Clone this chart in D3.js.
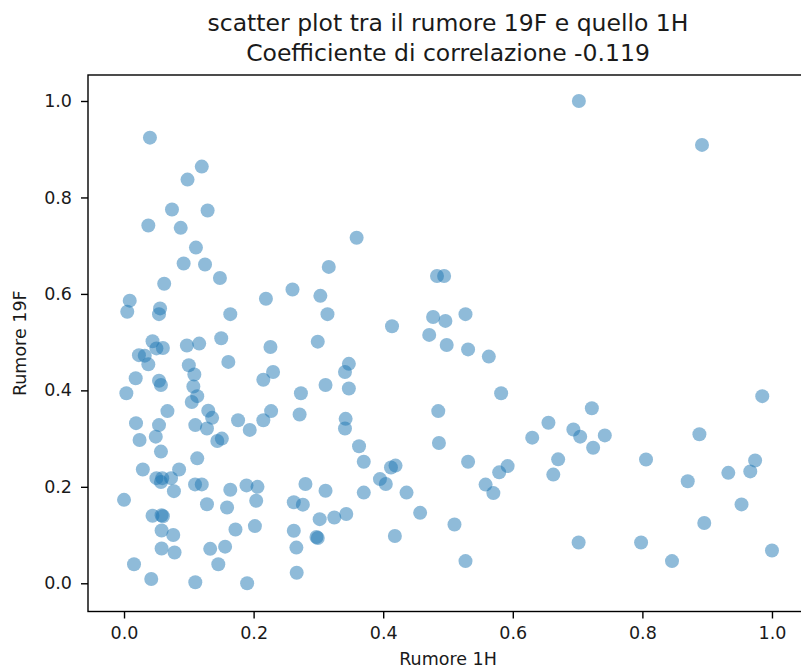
<!DOCTYPE html>
<html>
<head>
<meta charset="utf-8">
<script src="https://cdn.jsdelivr.net/npm/d3@7/dist/d3.min.js"></script>
<style>
  body { margin: 0; background: #fff; }
  svg text { font-family: "DejaVu Sans", sans-serif; }
</style>
</head>
<body>
<svg id="chart" width="801" height="670"></svg>
<script>
// Noise of the 1H channel (x) against the 19F channel (y), one entry per sample
const rumore1H = [
  0.040, 0.120, 0.098, 0.074, 0.129, 0.0375, 0.0875, 0.111, 0.092, 0.125,
  0.148, 0.062, 0.0088, 0.005, 0.0556, 0.054, 0.164, 0.219, 0.260, 0.303,
  0.316, 0.314, 0.299, 0.044, 0.023, 0.032, 0.0375, 0.050, 0.060, 0.097,
  0.116, 0.150, 0.161, 0.100, 0.1085, 0.018, 0.054, 0.057, 0.107, 0.113,
  0.1045, 0.0036, 0.215, 0.230, 0.226, 0.273, 0.311, 0.067, 0.130, 0.136,
  0.0185, 0.054, 0.110, 0.128, 0.176, 0.194, 0.215, 0.227, 0.271, 0.024,
  0.049, 0.144, 0.151, 0.057, 0.113, 0.029, 0.085, 0.050, 0.059, 0.0725,
  0.057, 0.077, 0.1096, 0.120, 0.164, 0.189, 0.206, 0.000, 0.128, 0.159,
  0.204, 0.262, 0.276, 0.280, 0.311, 0.044, 0.058, 0.060, 0.058, 0.076,
  0.172, 0.202, 0.262, 0.297, 0.299, 0.058, 0.078, 0.133, 0.156, 0.266,
  0.0154, 0.1455, 0.2665, 0.042, 0.110, 0.190, 0.483, 0.494, 0.4136, 0.477,
  0.496, 0.527, 0.471, 0.498, 0.531, 0.563, 0.347, 0.341, 0.347, 0.582,
  0.485, 0.342, 0.341, 0.655, 0.630, 0.486, 0.3627, 0.370, 0.412, 0.419,
  0.531, 0.592, 0.579, 0.395, 0.404, 0.558, 0.570, 0.370, 0.436, 0.302,
  0.3245, 0.343, 0.457, 0.418, 0.510, 0.527, 0.6935, 0.704, 0.742, 0.724,
  0.670, 0.6625, 0.8056, 0.888, 0.870, 0.9326, 0.9665, 0.974, 0.953, 0.8955,
  0.7016, 0.798, 0.8457, 1.000, 0.985, 0.722, 0.359, 0.702, 0.892
];
const rumore19F = [
  0.924, 0.864, 0.837, 0.775, 0.773, 0.742, 0.737, 0.696, 0.663, 0.661,
  0.633, 0.621, 0.586, 0.563, 0.570, 0.558, 0.558, 0.590, 0.609, 0.596,
  0.656, 0.558, 0.501, 0.502, 0.473, 0.472, 0.454, 0.487, 0.488, 0.493,
  0.497, 0.508, 0.459, 0.452, 0.433, 0.425, 0.420, 0.411, 0.408, 0.388,
  0.376, 0.394, 0.422, 0.438, 0.490, 0.394, 0.411, 0.357, 0.358, 0.343,
  0.332, 0.328, 0.328, 0.321, 0.338, 0.318, 0.338, 0.357, 0.350, 0.297,
  0.304, 0.295, 0.300, 0.273, 0.259, 0.236, 0.236, 0.218, 0.218, 0.218,
  0.210, 0.191, 0.205, 0.205, 0.194, 0.203, 0.200, 0.173, 0.164, 0.157,
  0.171, 0.168, 0.163, 0.206, 0.192, 0.140, 0.141, 0.139, 0.1095, 0.100,
  0.1115, 0.1186, 0.109, 0.096, 0.094, 0.072, 0.0637, 0.0714, 0.076, 0.074,
  0.0395, 0.0395, 0.022, 0.009, 0.002, 0.000, 0.637, 0.637, 0.533, 0.552,
  0.544, 0.558, 0.515, 0.494, 0.485, 0.470, 0.455, 0.438, 0.404, 0.394,
  0.357, 0.341, 0.321, 0.333, 0.302, 0.291, 0.284, 0.252, 0.240, 0.244,
  0.252, 0.243, 0.230, 0.216, 0.206, 0.2046, 0.187, 0.188, 0.188, 0.133,
  0.1365, 0.1436, 0.146, 0.098, 0.122, 0.046, 0.319, 0.304, 0.3066, 0.281,
  0.257, 0.2254, 0.2566, 0.309, 0.2115, 0.229, 0.232, 0.2545, 0.1636, 0.125,
  0.0845, 0.0845, 0.046, 0.068, 0.388, 0.363, 0.7165, 1.000, 0.909
];
const xTicks = [0.0, 0.2, 0.4, 0.6, 0.8, 1.0];
const yTicks = [0.0, 0.2, 0.4, 0.6, 0.8, 1.0];
const titleLines = [
  "scatter plot tra il rumore 19F e quello 1H",
  "Coefficiente di correlazione -0.119"
];
const xLabel = "Rumore 1H";
const yLabel = "Rumore 19F";

const points = rumore1H.map((v, i) => ({ x: v, y: rumore19F[i] }));

const svg = d3.select("#chart");
svg.append("rect").attr("width", 801).attr("height", 670).attr("fill", "#fff");

// Axes box (the right edge falls just past the canvas)
const box = { left: 88, top: 75, right: 808, bottom: 611.5 };

const x = d3.scaleLinear().domain([-0.0556, 1.0556]).range([box.left, box.right]);
const y = d3.scaleLinear().domain([-0.0585, 1.0539]).range([box.bottom, box.top]);

const fmt = d3.format(".1f");
const tickFont = 17.5;
const inkColor = "#1a1a1a";

// Scatter marks
svg.append("g")
  .selectAll("circle")
  .data(points)
  .join("circle")
  .attr("cx", d => x(d.x))
  .attr("cy", d => y(d.y))
  .attr("r", 7)
  .attr("fill", "#1f77b4")
  .attr("fill-opacity", 0.5);

// Frame
svg.append("rect")
  .attr("x", box.left)
  .attr("y", box.top)
  .attr("width", box.right - box.left)
  .attr("height", box.bottom - box.top)
  .attr("fill", "none")
  .attr("stroke", "#000")
  .attr("stroke-width", 1.4);

// Bottom axis
const gx = svg.append("g")
  .attr("transform", `translate(0,${box.bottom})`)
  .call(d3.axisBottom(x).tickValues(xTicks).tickFormat(fmt).tickSize(7).tickPadding(8));

// Left axis
const gy = svg.append("g")
  .attr("transform", `translate(${box.left},0)`)
  .call(d3.axisLeft(y).tickValues(yTicks).tickFormat(fmt).tickSize(7).tickPadding(9));

[gx, gy].forEach(g => {
  g.select(".domain").remove();
  g.selectAll(".tick line").attr("stroke", "#000").attr("stroke-width", 1.4);
  g.selectAll(".tick text")
    .attr("fill", inkColor)
    .style("font-size", tickFont + "px");
});

// Title
svg.append("g")
  .selectAll("text")
  .data(titleLines)
  .join("text")
  .attr("x", (box.left + box.right) / 2)
  .attr("y", (d, i) => 31 + i * 30)
  .attr("text-anchor", "middle")
  .attr("fill", inkColor)
  .style("font-size", "23.5px")
  .text(d => d);

// Axis titles
svg.append("text")
  .attr("x", (box.left + box.right) / 2)
  .attr("y", 665)
  .attr("text-anchor", "middle")
  .attr("fill", inkColor)
  .style("font-size", tickFont + "px")
  .text(xLabel);

svg.append("text")
  .attr("transform", `translate(26,${(box.top + box.bottom) / 2}) rotate(-90)`)
  .attr("text-anchor", "middle")
  .attr("fill", inkColor)
  .style("font-size", tickFont + "px")
  .text(yLabel);
</script>
</body>
</html>
